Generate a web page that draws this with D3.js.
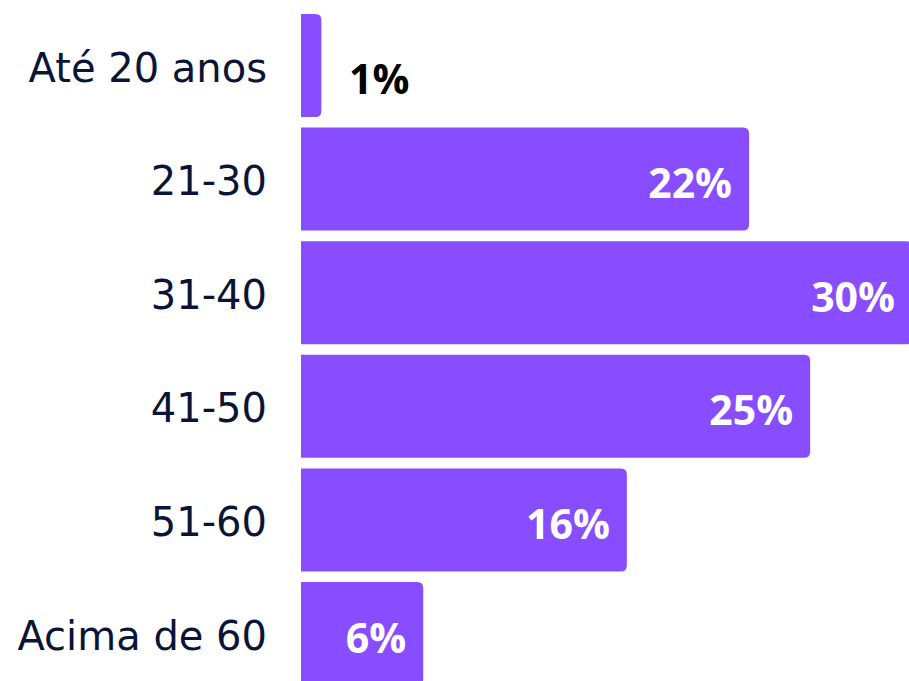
<!DOCTYPE html>
<html><head><meta charset="utf-8">
<script src="https://cdn.jsdelivr.net/npm/d3@7"></script>
<style>body{margin:0;background:#fff}svg{display:block}</style>
</head><body><svg id="c" width="909" height="681"></svg>
<script>
const categories = ["Até 20 anos","21-30","31-40","41-50","51-60","Acima de 60"];
const values = [1,22,30,25,16,6];
const valueLabels = ["1%","22%","30%","25%","16%","6%"];

const svg = d3.select("#c");
const x = d3.scaleLinear().domain([0,30]).range([301,912]);
const y = d3.scaleBand().domain(categories).range([8.7,690.3]).paddingInner(0.093).paddingOuter(0.0465);
const r = 6;
const color = "#884dff";

function barPath(x0, x1, y0, h){
  const rr = Math.min(r, (x1-x0)/2);
  return `M${x0},${y0}H${x1-rr}Q${x1},${y0} ${x1},${y0+rr}V${y0+h-rr}Q${x1},${y0+h} ${x1-rr},${y0+h}H${x0}Z`;
}

svg.selectAll("path.bar").data(values).join("path")
  .attr("class","bar")
  .attr("fill", color)
  .attr("d",(d,i)=>barPath(x(0), x(d), y(categories[i]), y.bandwidth()));

svg.selectAll("text.cat").data(categories).join("text")
  .attr("class","cat")
  .attr("x",267)
  .attr("y",d=>y(d)+y.bandwidth()/2+16)
  .attr("text-anchor","end")
  .attr("fill","#0b1437")
  .style("font-family","'DejaVu Sans', sans-serif")
  .style("font-size","40px")
  .text(d=>d);

svg.selectAll("text.val").data(values).join("text")
  .attr("class","val")
  .attr("x",(d,i)=> d < 3 ? x(0)+48 : x(d)-17)
  .attr("y",(d,i)=>y(categories[i])+y.bandwidth()/2 + (d<3 ? 28 : 19))
  .attr("text-anchor",d=> d < 3 ? "start" : "end")
  .attr("fill",d=> d < 3 ? "#000" : "#fff")
  .style("font-family","'Open Sans', 'Noto Sans', sans-serif")
  .style("font-weight","700")
  .style("font-size","41px")
  .text((d,i)=>valueLabels[i]);
</script></body></html>
